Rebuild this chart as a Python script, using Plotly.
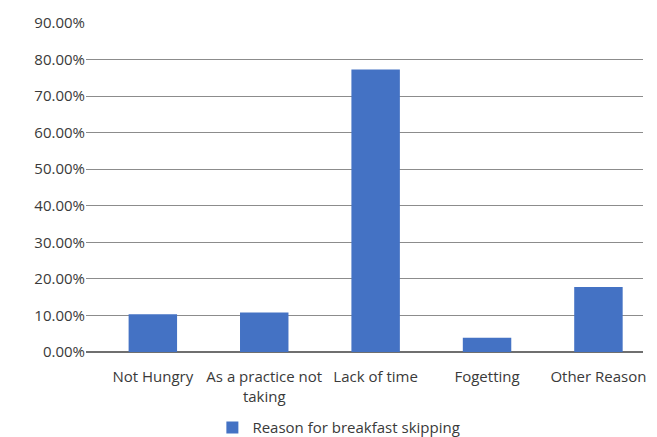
import plotly.graph_objects as go

# Reasons given for skipping breakfast (share of respondents)
reasons = ["Not Hungry", "As a practice not<br>taking", "Lack of time", "Fogetting", "Other Reason"]
shares = [0.103, 0.108, 0.773, 0.039, 0.178]
series_name = "Reason for breakfast skipping"
y_ticks = [0.0, 0.1, 0.2, 0.3, 0.4, 0.5, 0.6, 0.7, 0.8, 0.9]

fig = go.Figure(
    go.Bar(
        x=reasons,
        y=shares,
        name=series_name,
        marker=dict(color="#4472C4", line=dict(width=0)),
        showlegend=True,
    )
)

fig.update_layout(
    width=657,
    height=437,
    margin=dict(l=86, r=14, t=23, b=85, autoexpand=False),
    paper_bgcolor="white",
    plot_bgcolor="white",
    font=dict(family="Open Sans, sans-serif", size=15, color="#3a3a3a"),
    bargap=0.565,
    showlegend=True,
    legend=dict(
        orientation="h",
        x=0.454,
        xanchor="center",
        xref="paper",
        y=0.021,
        yanchor="middle",
        yref="container",
        font=dict(size=15, color="#3a3a3a"),
        itemwidth=30,
    ),
)

fig.update_xaxes(
    type="category",
    range=[-0.6, 4.4],
    showgrid=False,
    showline=False,
    ticks="",
    ticklabelstandoff=14,
    tickfont=dict(size=15),
)

fig.update_yaxes(
    range=[0, 0.9],
    tickvals=y_ticks,
    tickformat=".2%",
    showgrid=True,
    gridcolor="#8c8c8c",
    gridwidth=1,
    zeroline=True,
    zerolinecolor="#6f6f6f",
    zerolinewidth=2,
    showline=False,
    ticks="",
    ticklen=0,
    tickfont=dict(size=15),
)

fig.write_html("out.html")
